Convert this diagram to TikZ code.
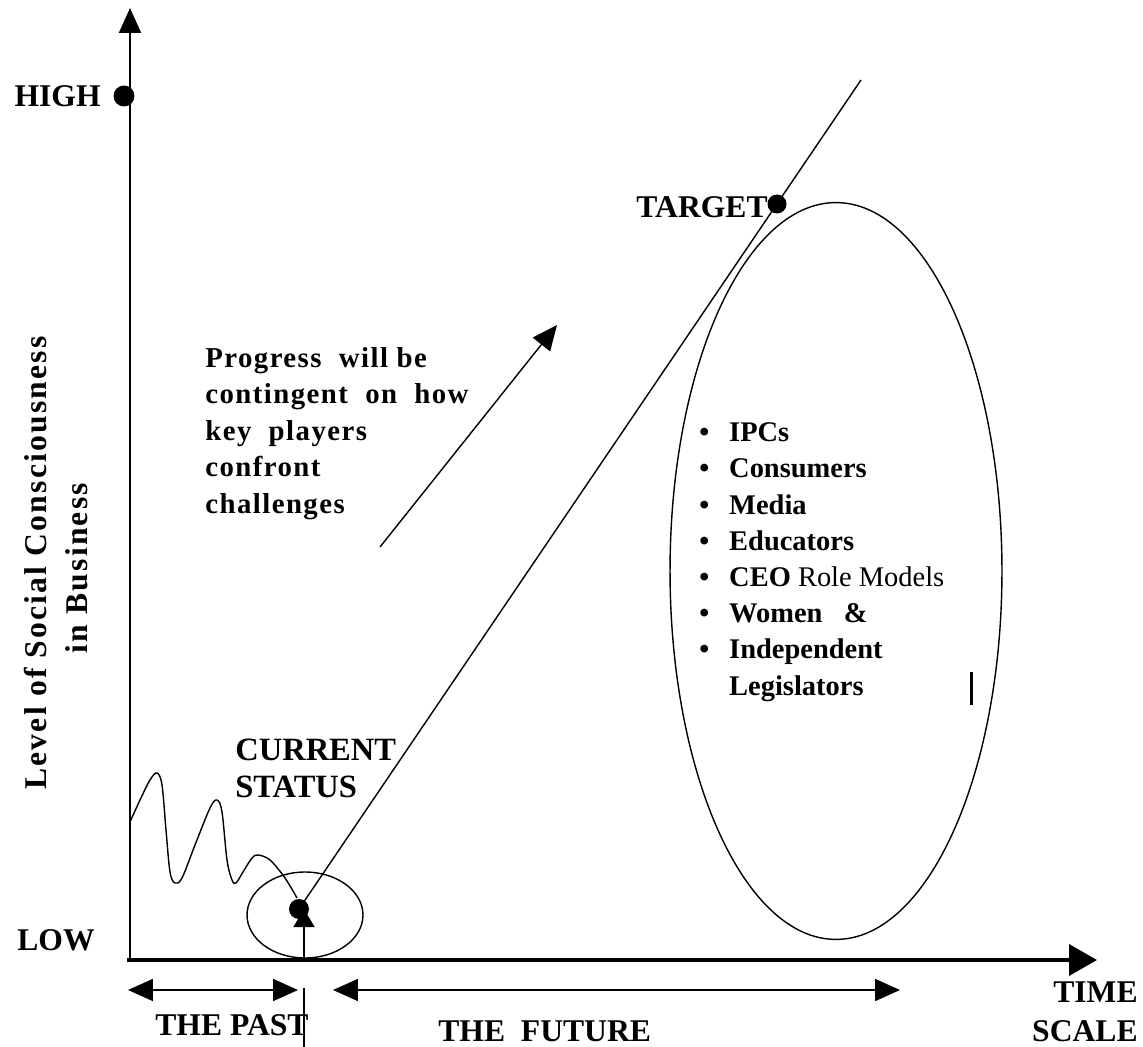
\documentclass[tikz,border=0pt]{standalone}
\usepackage{fontspec}
\setmainfont{Liberation Serif}
\newfontfamily\spacedfont[LetterSpace=7]{Liberation Serif}
\newfontfamily\bodyfont[LetterSpace=5]{Liberation Serif}
\usetikzlibrary{arrows.meta,shapes.geometric}
\newcommand\bul{\makebox[17pt][l]{\textbullet}}
\begin{document}
\begin{tikzpicture}[x=0.02cm,y=-0.02cm,
  lbl/.style={font=\fontsize{18}{21}\selectfont\bfseries, inner sep=0},
  body/.style={font=\fontsize{16.4}{20.7}\selectfont\bodyfont\bfseries, inner sep=0, align=left},
  ylab/.style={font=\fontsize{18}{21}\selectfont\spacedfont\bfseries, inner sep=0, rotate=90},
  dotb/.style={circle, fill=black, inner sep=0, minimum size=0.42cm},
  tipa/.style={-{Triangle[length=0.5cm,width=0.44cm]}},
  tipb/.style={{Triangle[length=0.5cm,width=0.44cm]}-{Triangle[length=0.5cm,width=0.44cm]}},
  oval/.style={draw, ellipse, inner sep=0, line width=0.8pt},
  thinline/.style={line width=0.8pt}]
\useasboundingbox (0,0) rectangle (1143,1047);
\fill[white] (0,0) rectangle (1143,1047);

% axes
\coordinate (yo) at (130,958);
\coordinate (ytop) at (130,8);
\draw[line width=1.1pt, tipa] (yo) -- (ytop);
\coordinate (xo) at (127,960);
\coordinate (xtip) at (1097,960);
\draw[line width=2.2pt, -{Triangle[length=0.56cm,width=0.62cm]}] (xo) -- (xtip);

% axis labels
\node[dotb] (high) at (124,96) {};
\node[lbl, anchor=east] (hightxt) at (101,96) {HIGH};
\node[lbl, anchor=base west] (lowtxt) at (17,950) {LOW};
\node[ylab] (ylab1) at (36,563) {Level of Social Consciousness};
\node[ylab] (ylab2) at (77,568) {in Business};

% current status
\node[dotb, minimum size=0.4cm] (cur) at (299,909) {};
\node[oval, minimum width=2.32cm, minimum height=1.72cm] (curoval) at (305,915) {};
\draw[thinline] plot[smooth, tension=0.55] coordinates {(130,822) (140,800) (150,780) (157,773) (162,785) (166,830) (170,872) (175,883) (182,878) (195,845) (210,808) (217,800) (222,812) (227,860) (232,880) (236,883) (243,872) (252,858) (258,855) (270,860) (285,878) (297,898)};
\coordinate (curbase) at (304,960);
\draw[thinline, -{Triangle[length=0.36cm,width=0.42cm]}] (curbase) -- (curbase |- cur.center);
\node[lbl, align=left, anchor=base west, font=\fontsize{18.5}{21}\selectfont\bfseries] (curtxt) at (235,797) {CURRENT\\STATUS};

% trajectory
\coordinate (lineend) at (861,80);
\draw[thinline] (cur.center) -- (lineend);
\node[dotb, minimum size=0.38cm] (target) at (777,204) {};
\node[lbl, anchor=east] (targettxt) at (768,207) {TARGET};

% big oval with key players
\node[oval, minimum width=6.64cm, minimum height=14.74cm] (bigoval) at (836,571) {};
\node[inner sep=0, align=left, anchor=base west, font=\fontsize{16.2}{20.6}\selectfont\bfseries] (list) at (699,695) {\bul IPCs\\\bul Consumers\\\bul Media\\\bul Educators\\\bul CEO {\mdseries Role Models}\\\bul Women\ \ \ \&\\\bul Independent\\\hspace*{17pt}Legislators};
\coordinate (bar1) at (971,672);
\coordinate (bar2) at (971,705);
\draw[line width=1.7pt] (bar1) -- (bar2);

% progress
\coordinate (pa) at (380,547);
\coordinate (pb) at (557,325);
\draw[thinline, tipa] (pa) -- (pb);
\node[body, anchor=base west] (progress) at (205,513) {Progress\ \ will be\\contingent\ \ on\ \ how\\key\ \ players\\confront\\challenges};

% time scale
\coordinate (pastL) at (128,990);
\coordinate (pastR) at (298,990);
\draw[line width=1pt, tipb] (pastL) -- (pastR);
\coordinate (futL) at (333,990);
\coordinate (futR) at (900,990);
\draw[line width=1pt, tipb] (futL) -- (futR);
\coordinate (tick1) at (304,988);
\coordinate (tick2) at (304,1047);
\draw[line width=1pt] (tick1) -- (tick2);
\node[lbl, anchor=base west] (pasttxt) at (155,1035) {THE PAST};
\node[lbl, anchor=base west] (futtxt) at (438,1041) {THE\ \ FUTURE};
\node[lbl, align=right, anchor=base east, font=\fontsize{18}{22}\selectfont\bfseries] (timetxt) at (1138,1041) {TIME\\SCALE};
\end{tikzpicture}
\end{document}
